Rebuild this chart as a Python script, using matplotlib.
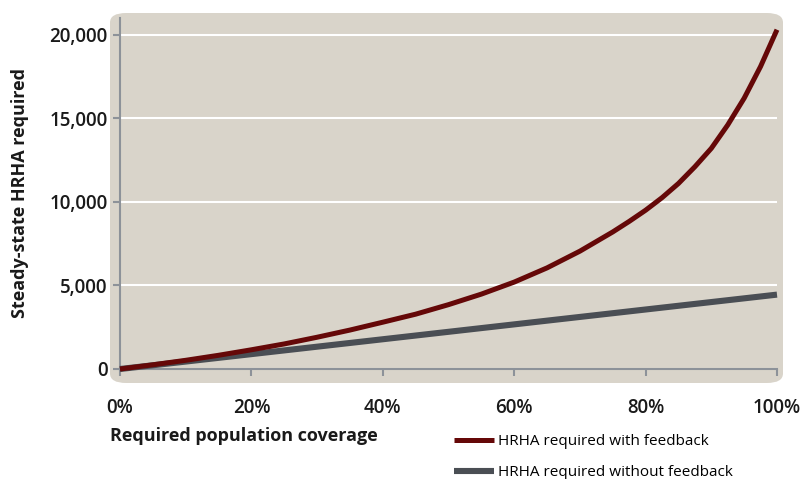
import matplotlib.pyplot as plt
from matplotlib.patches import FancyBboxPatch
from matplotlib.ticker import FuncFormatter

# required population coverage (fraction)
coverage = [0.00, 0.05, 0.10, 0.15, 0.20, 0.25, 0.30, 0.35, 0.40, 0.45, 0.50,
            0.55, 0.60, 0.65, 0.70, 0.75, 0.775, 0.80, 0.825, 0.85, 0.875,
            0.90, 0.925, 0.95, 0.975, 1.00]
with_feedback = [0, 250, 520, 820, 1150, 1500, 1900, 2330, 2800, 3280, 3850,
                 4480, 5200, 6050, 7050, 8200, 8830, 9500, 10250, 11100, 12100,
                 13200, 14600, 16200, 18100, 20300]
coverage_nf = [0.0, 1.0]
without_feedback = [0, 4450]

x_ticks = [0, 0.2, 0.4, 0.6, 0.8, 1.0]
y_ticks = [0, 5000, 10000, 15000, 20000]

RED = "#650808"
GREY = "#4a4e54"
BG = "#d9d4ca"
AXIS = "#8d9299"

plt.rcParams["font.family"] = ["Open Sans", "DejaVu Sans"]

fig = plt.figure(figsize=(8.05, 4.79), dpi=100)

# beige panel behind the plot
panel = FancyBboxPatch((110 / 805, 1 - 383 / 479), 673 / 805, 370 / 479,
                       boxstyle="round,pad=0,rounding_size=0.02",
                       transform=fig.transFigure, facecolor=BG,
                       edgecolor="none", zorder=-1)
fig.patches.append(panel)

ax = fig.add_axes([120 / 805, 1 - 369 / 479, 657 / 805, 351 / 479])
ax.set_zorder(1)
ax.set_facecolor("none")

ax.plot(coverage_nf, without_feedback, color=GREY, lw=4.4,
        solid_capstyle="butt", clip_on=False, zorder=3,
        label="HRHA required without feedback")
ax.plot(coverage, with_feedback, color=RED, lw=3.6,
        solid_capstyle="butt", solid_joinstyle="round", clip_on=False,
        zorder=4, label="HRHA required with feedback")

ax.set_xlim(0, 1)
ax.set_ylim(0, 21000)
ax.set_xticks(x_ticks)
ax.set_yticks(y_ticks)
ax.xaxis.set_major_formatter(FuncFormatter(lambda v, p: f"{v * 100:.0f}%"))
ax.yaxis.set_major_formatter(FuncFormatter(lambda v, p: f"{v:,.0f}"))
ax.grid(axis="y", color="white", lw=1.5, zorder=1)
ax.set_axisbelow(True)

for s in ["top", "right"]:
    ax.spines[s].set_visible(False)
for s in ["left", "bottom"]:
    ax.spines[s].set_color(AXIS)
    ax.spines[s].set_linewidth(1.5)
ax.tick_params(axis="both", colors=AXIS, width=1.5, length=5,
               labelcolor="#1a1a1a", labelsize=13.5)
ax.tick_params(axis="x", pad=16)
ax.tick_params(axis="y", pad=4)
for lbl in ax.get_xticklabels() + ax.get_yticklabels():
    lbl.set_fontweight("semibold")

ax.set_ylabel("Steady-state HRHA required", fontsize=13, fontweight="bold",
              color="#1a1a1a")
ax.yaxis.set_label_coords(-0.138, 0.5)
ax.set_xlabel("Required population coverage", fontsize=13, fontweight="bold",
              color="#1a1a1a")
ax.xaxis.set_label_coords(-0.015, -0.165)
ax.xaxis.label.set_horizontalalignment("left")

handles, labels = ax.get_legend_handles_labels()
leg = fig.legend(handles[::-1], labels[::-1], loc="upper left",
                 bbox_to_anchor=(448 / 805, 1 - 428 / 479), frameon=False,
                 fontsize=11, handlelength=2.6, handletextpad=0.3,
                 labelspacing=1.05, borderaxespad=0)

fig.savefig("out.png", dpi=100)
